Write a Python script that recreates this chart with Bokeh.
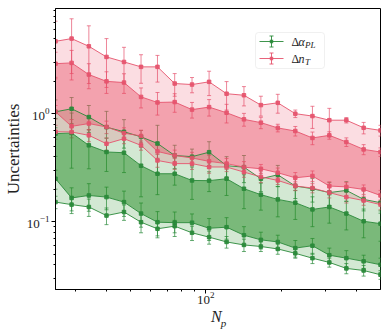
from bokeh.plotting import figure
from bokeh.models import (ColumnDataSource, Whisker, TeeHead, FixedTicker, Label,
                          BoxAnnotation, Range1d, LogAxis)
from bokeh.embed import file_html
from bokeh.resources import INLINE

# ---------------- data ----------------
Np = [25, 29, 34, 40, 47, 55, 64, 75, 88, 103, 121, 142, 166, 194, 228, 267, 312, 365, 428, 500]

# Delta alpha_PL : four percentile curves (outer high, inner high, inner low, outer low)
alpha_hi2 = [1.04, 1.11, 0.93, 0.75, 0.68, 0.61, 0.53, 0.41, 0.40, 0.44, 0.33, 0.32, 0.25, 0.272, 0.214, 0.202, 0.186, 0.195, 0.161, 0.150]
alpha_hi1 = [0.653, 0.663, 0.509, 0.442, 0.435, 0.33, 0.278, 0.278, 0.241, 0.24, 0.25, 0.202, 0.178, 0.161, 0.150, 0.130, 0.137, 0.119, 0.101, 0.096]
alpha_lo1 = [0.25, 0.166, 0.175, 0.169, 0.152, 0.119, 0.099, 0.098, 0.098, 0.087, 0.089, 0.075, 0.068, 0.065, 0.057, 0.060, 0.049, 0.046, 0.043, 0.040]
alpha_lo2 = [0.152, 0.144, 0.137, 0.114, 0.123, 0.099, 0.086, 0.091, 0.079, 0.072, 0.065, 0.061, 0.059, 0.056, 0.051, 0.046, 0.042, 0.037, 0.0354, 0.0323]
alpha_hi2_err = [0.3, 0.3, 0.26, 0.3, 0.2, 0.09, 0.25, 0.1, 0.07, 0.11, 0.07, 0.09, 0.06, 0.06, 0.05, 0.05, 0.045, 0.04, 0.035, 0.03]
alpha_hi1_err = [0.25, 0.35, 0.2, 0.15, 0.15, 0.16, 0.1, 0.06, 0.08, 0.05, 0.075, 0.07, 0.05, 0.05, 0.045, 0.04, 0.04, 0.035, 0.03, 0.03]
alpha_lo1_err = [0.05, 0.04, 0.05, 0.04, 0.04, 0.03, 0.025, 0.025, 0.02, 0.02, 0.02, 0.015, 0.012, 0.01, 0.01, 0.01, 0.008, 0.008, 0.006, 0.006]
alpha_lo2_err = [0.02, 0.025, 0.025, 0.02, 0.02, 0.02, 0.015, 0.012, 0.012, 0.01, 0.008, 0.008, 0.006, 0.006, 0.005, 0.005, 0.004, 0.004, 0.004, 0.003]

# Delta n_T
nT_hi2 = [4.67, 4.95, 4.2, 3.35, 3.01, 2.71, 2.71, 1.90, 1.86, 1.97, 1.53, 1.48, 1.2, 1.26, 1.0, 0.95, 0.87, 0.87, 0.74, 0.70]
nT_hi1 = [2.90, 2.95, 2.30, 1.99, 1.94, 1.43, 1.27, 1.28, 1.09, 1.15, 1.02, 0.886, 0.826, 0.738, 0.691, 0.596, 0.63, 0.547, 0.467, 0.442]
nT_lo1 = [1.04, 0.763, 0.81, 0.753, 0.66, 0.622, 0.447, 0.41, 0.389, 0.362, 0.345, 0.32, 0.309, 0.284, 0.255, 0.265, 0.214, 0.210, 0.199, 0.175]
nT_lo2 = [0.68, 0.677, 0.63, 0.527, 0.587, 0.509, 0.369, 0.345, 0.345, 0.321, 0.321, 0.288, 0.26, 0.241, 0.214, 0.205, 0.186, 0.169, 0.157, 0.144]
nT_hi2_err = [2.5, 2.6, 2.3, 1.6, 1.1, 0.8, 0.75, 0.45, 0.3, 0.5, 0.45, 0.3, 0.25, 0.25, 0.08, 0.22, 0.25, 0.05, 0.09, 0.08]
nT_hi1_err = [0.8, 0.9, 0.6, 0.45, 0.4, 0.3, 0.3, 0.25, 0.18, 0.2, 0.2, 0.12, 0.1, 0.06, 0.07, 0.08, 0.05, 0.05, 0.05, 0.04]
nT_lo1_err = [0.15, 0.12, 0.1, 0.1, 0.08, 0.08, 0.06, 0.05, 0.05, 0.05, 0.04, 0.04, 0.03, 0.03, 0.03, 0.03, 0.02, 0.02, 0.02, 0.02]
nT_lo2_err = [0.1, 0.08, 0.08, 0.07, 0.06, 0.05, 0.05, 0.04, 0.04, 0.04, 0.03, 0.03, 0.03, 0.02, 0.02, 0.02, 0.02, 0.02, 0.015, 0.015]

x_ticks = [100]
x_minor = [30, 40, 50, 60, 70, 80, 90, 200, 300, 400]
y_ticks = [0.1, 1]
y_minor = [0.03, 0.04, 0.05, 0.06, 0.07, 0.08, 0.09, 0.2, 0.3, 0.4, 0.5, 0.6, 0.7, 0.8, 0.9, 2, 3, 4, 5, 6, 7, 8, 9]

GREEN_LINE = "#2a8a3a"
GREEN_FILL = "#228b22"
PINK_LINE = "#e5536d"
PINK_FILL = "#e8455e"
SERIF = "Liberation Serif"
TXT = "#222222"

# ---------------- figure ----------------
p = figure(frame_width=325, frame_height=281, x_axis_type="log", y_axis_type="log",
           x_range=Range1d(25, 500), y_range=Range1d(0.0236, 9.4),
           output_backend="svg", toolbar_location=None,
           min_border_left=54, min_border_right=8, min_border_top=8, min_border_bottom=38)
p.background_fill_color = "white"
p.border_fill_color = "white"
p.outline_line_color = "black"
p.outline_line_width = 1
p.xgrid.visible = False
p.ygrid.visible = False

p.xaxis.ticker = FixedTicker(ticks=x_ticks, minor_ticks=x_minor)
p.yaxis.ticker = FixedTicker(ticks=y_ticks, minor_ticks=y_minor)
for ax in (p.xaxis[0], p.yaxis[0]):
    ax.major_tick_in = 0
    ax.major_tick_out = 4
    ax.minor_tick_in = 0
    ax.minor_tick_out = 2
    ax.major_tick_line_color = "black"
    ax.minor_tick_line_color = "black"
    ax.axis_line_color = "black"
    ax.major_label_text_font = SERIF
    ax.major_label_text_font_size = "13px"
    ax.major_label_text_color = TXT
    ax.axis_label_text_font = SERIF
    ax.axis_label_text_color = TXT

p.yaxis.major_label_standoff = 2
p.yaxis.axis_label = "Uncertainties"
p.yaxis.axis_label_text_font_size = "17px"
p.yaxis.axis_label_text_font_style = "normal"
p.yaxis.axis_label_standoff = 1

p.xaxis.major_label_standoff = -2
p.xaxis.axis_label = "N\u2009"
p.xaxis.axis_label_text_font_size = "16px"
p.xaxis.axis_label_text_font_style = "italic"
p.xaxis.axis_label_standoff = 1

# subscript "p" of N_p, carried by a bare helper axis under the x axis
sub_axis = LogAxis(ticker=FixedTicker(ticks=[]), axis_label="\u2002\u2002p",
                   axis_line_color=None, major_tick_line_color=None, minor_tick_line_color=None,
                   major_tick_out=0, minor_tick_out=0, major_tick_in=0, minor_tick_in=0,
                   major_label_standoff=0, major_label_text_font_size="0px",
                   axis_label_text_font=SERIF, axis_label_text_font_style="italic",
                   axis_label_text_font_size="11px", axis_label_text_color=TXT,
                   axis_label_standoff=-11)
p.add_layout(sub_axis, "below")

# ---------------- bands ----------------
def bands(hi2, hi1, lo1, lo2, color, a_dark, a_light):
    p.varea(x=Np, y1=hi1, y2=hi2, fill_color=color, fill_alpha=a_light)
    p.varea(x=Np, y1=lo1, y2=hi1, fill_color=color, fill_alpha=a_dark)
    p.varea(x=Np, y1=lo2, y2=lo1, fill_color=color, fill_alpha=a_light)

bands(alpha_hi2, alpha_hi1, alpha_lo1, alpha_lo2, GREEN_FILL, 0.6, 0.2)
bands(nT_hi2, nT_hi1, nT_lo1, nT_lo2, PINK_FILL, 0.5, 0.18)

# ---------------- error-bar curves ----------------
def errcurve(vals, errs, color):
    src = ColumnDataSource(dict(x=Np, y=vals,
                                lower=[v - e for v, e in zip(vals, errs)],
                                upper=[v + e for v, e in zip(vals, errs)]))
    p.line("x", "y", source=src, line_color=color, line_width=1, line_alpha=0.9)
    w = Whisker(source=src, base="x", upper="upper", lower="lower", dimension="height",
                line_color=color, line_width=1, line_alpha=0.7,
                upper_head=TeeHead(size=4, line_color=color, line_width=1, line_alpha=0.7),
                lower_head=TeeHead(size=4, line_color=color, line_width=1, line_alpha=0.7))
    p.add_layout(w)
    p.scatter("x", "y", source=src, marker="square", size=3.5, fill_color=color,
              line_color=color, alpha=0.9)

for vals, errs in ((alpha_hi2, alpha_hi2_err), (alpha_hi1, alpha_hi1_err),
                   (alpha_lo1, alpha_lo1_err), (alpha_lo2, alpha_lo2_err)):
    errcurve(vals, errs, GREEN_LINE)
for vals, errs in ((nT_hi2, nT_hi2_err), (nT_hi1, nT_hi1_err),
                   (nT_lo1, nT_lo1_err), (nT_lo2, nT_lo2_err)):
    errcurve(vals, errs, PINK_LINE)

# ---------------- legend (frame-relative screen units) ----------------
p.add_layout(BoxAnnotation(left=200, right=269, bottom=221, top=257,
                           left_units="screen", right_units="screen",
                           top_units="screen", bottom_units="screen",
                           fill_color="white", fill_alpha=0.8, line_color="#cccccc",
                           line_width=1, border_radius=3))

def legend_entry(yc, color, main, sub):
    kw = dict(left_units="screen", right_units="screen", top_units="screen",
              bottom_units="screen", line_color=None, fill_color=color, fill_alpha=0.9)
    p.add_layout(BoxAnnotation(left=204, right=228, bottom=yc - 0.5, top=yc + 0.5, **kw))
    p.add_layout(BoxAnnotation(left=215.5, right=216.5, bottom=yc - 5.5, top=yc + 5.5, **kw))
    p.add_layout(BoxAnnotation(left=214, right=218, bottom=yc + 5, top=yc + 6, **kw))
    p.add_layout(BoxAnnotation(left=214, right=218, bottom=yc - 6, top=yc - 5, **kw))
    p.add_layout(BoxAnnotation(left=214.3, right=217.7, bottom=yc - 1.7, top=yc + 1.7, **kw))
    p.add_layout(Label(x=236, y=yc, x_units="screen", y_units="screen", text="Δ",
                       text_baseline="middle", text_font=SERIF, text_font_size="12px",
                       text_color=TXT))
    p.add_layout(Label(x=243, y=yc, x_units="screen", y_units="screen", text=main,
                       text_baseline="middle", text_font=SERIF, text_font_style="italic",
                       text_font_size="12px", text_color=TXT))
    p.add_layout(Label(x=249.5, y=yc - 3.5, x_units="screen", y_units="screen", text=sub,
                       text_baseline="middle", text_font=SERIF, text_font_style="italic",
                       text_font_size="9px", text_color=TXT))

legend_entry(248, GREEN_LINE, "α", "PL")
legend_entry(231, PINK_LINE, "n", "T")

open("out.html", "w").write(file_html(p, INLINE))
